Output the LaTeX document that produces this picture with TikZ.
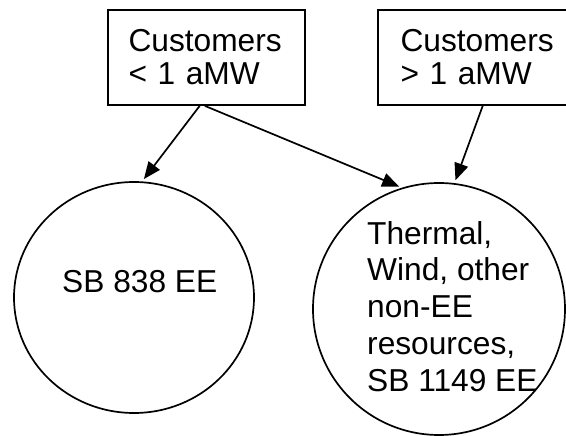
\documentclass[tikz,border=0pt]{standalone}
\usepackage{fontspec}
\setmainfont{Liberation Sans}
\usetikzlibrary{shapes.geometric,arrows.meta}
\begin{document}
\begin{tikzpicture}[x=1pt,y=-1pt,
  lw/.style={line width=1.7pt},
  box/.style={draw,lw,rectangle,text width=156pt,align=left,inner xsep=20.5pt,inner ysep=0pt,minimum height=95pt,font=\fontsize{31.7}{33}\selectfont},
  bubble/.style={draw,lw,ellipse,inner sep=0pt},
  txt/.style={inner sep=0pt,align=left,font=\fontsize{31.7}{36.8}\selectfont},
  arr/.style={lw,-{Triangle[length=17pt,width=14pt]},shorten >=3pt}]
\useasboundingbox (0,0) rectangle (566,436);
\node[box] (b1) at (206.5,57.5) {Customers\\< 1 aMW};
\node[box,inner xsep=22.5pt] (b2) at (478.5,57.5) {Customers\\> 1 aMW};
\node[bubble,minimum width=240pt,minimum height=231pt] (c1) at (134,297.5) {};
\node[bubble,minimum width=252pt,minimum height=252pt] (c2) at (439,309) {};
\node[txt,anchor=base west] (t1) at (62,292) {SB 838 EE};
\node[txt,anchor=north west] (t2) at (367,221) {Thermal,\\Wind, other\\non-EE\\resources,\\SB 1149 EE};
\draw[arr] (b1.262) -- (c1.86);
\draw[arr] (b1.268) -- (c2.107.5);
\draw[arr] (b2.275.4) -- (c2.83.5);
\end{tikzpicture}
\end{document}
